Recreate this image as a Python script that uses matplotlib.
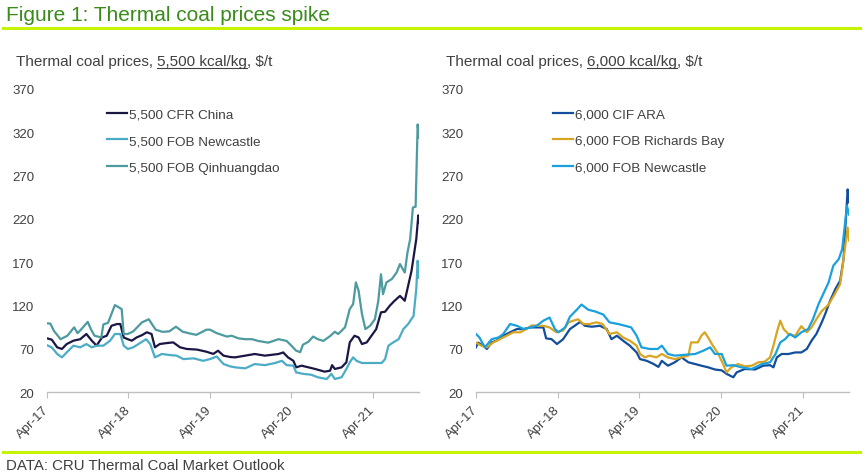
import matplotlib
matplotlib.use('Agg')
import matplotlib.pyplot as plt
from matplotlib.lines import Line2D

plt.rcParams['font.family'] = ['Liberation Sans', 'DejaVu Sans']

# months counted from Apr-17
tick_months = [0, 12, 24, 36, 48]
tick_labels = ['Apr-17', 'Apr-18', 'Apr-19', 'Apr-20', 'Apr-21']

# 5,500 kcal/kg
cfr_china_m = [0, 0.7, 1.5, 2.2, 2.9, 3.9, 4.9, 5.8, 6.6, 7.3, 8.1, 8.8, 9.5, 10.3, 10.8, 11.3, 11.9,
               12.5, 13.2, 14, 14.7, 15.4, 15.9, 16.6, 17.6, 18.6, 19.6, 20.6, 22.1, 23.5, 24.5, 25.2,
               26, 27, 27.7, 29.2, 30.6, 32.1, 34.1, 34.8, 35.5, 36.3, 36.7, 37.5, 38.5, 39.5, 40.9,
               41.7, 42, 42.4, 43.4, 44.1, 44.6, 45.3, 45.9, 46.4, 47.1, 47.8, 48.5, 49.2, 49.8, 50.5,
               51.2, 52, 52.7, 53.2, 53.7, 54.4, 54.7, 54.8]
cfr_china_v = [82, 80.5, 71.6, 69.7, 75.4, 79.3, 81, 87, 79.3, 73.5, 83, 85, 96.5, 98.5, 98.5, 83, 81,
               79.3, 83, 85.7, 89, 87, 71.6, 75.4, 76.5, 77.3, 71.6, 69.7, 69, 66.5, 64, 67.7,
               62, 60.4, 60, 62, 63.9, 62, 63.9, 65.7, 60, 56, 48.5, 50.4, 48.5, 46.6, 43.5,
               44.6, 51, 46.6, 48.5, 54.3, 77.3, 85, 83, 75.4, 77.3, 85, 92.7, 112, 112.7, 119.7,
               125.4, 131, 125.4, 142.7, 160, 196.7, 224, 216]

newc55_m = [0, 0.7, 1.5, 2.2, 2.9, 3.9, 4.9, 5.8, 6.6, 7.3, 8.3, 9.3, 10, 10.8, 11.3, 11.9, 12.7,
            13.7, 14.6, 15.2, 15.9, 16.9, 18.1, 19.1, 20.1, 21.6, 23, 24, 25, 26, 27, 27.7, 29.2,
            30.6, 32.1, 33.6, 34.6, 35.3, 36.3, 36.7, 37.7, 38.9, 39.9, 41.2, 41.9, 42.4, 43.4,
            44.1, 44.6, 45.1, 45.6, 46.4, 47.8, 49.3, 49.8, 50.3, 51, 51.8, 52.5, 53.2, 54, 54.4,
            54.6, 54.8]
newc55_v = [74, 71.6, 63.9, 60, 65.7, 73.5, 71.6, 75.4, 71.6, 73.5, 73.5, 79.3, 87, 87, 73.5, 69.7, 71.6,
            76.5, 81, 75.4, 60, 63.9, 62.7, 62, 58, 58.9, 56, 58, 61, 52.3, 49.6, 48.5, 47.3,
            52.3, 51, 53.5, 56, 51, 50.4, 42.7, 41, 40, 37, 35, 41, 35, 37,
            46.6, 54.3, 60, 56, 53.5, 53.5, 53.5, 58, 73.5, 77.3, 81, 92.7, 98.5, 108, 139,
            171.6, 152]

qhd_m = [0, 0.5, 1, 2, 3, 4, 4.5, 5, 6, 6.5, 7, 8, 8.3, 9, 10, 11, 11.3, 11.9, 12.7, 14, 15, 16, 17,
         18, 19, 20, 21, 22, 23.5, 24, 25, 26.5, 27.2, 28.2, 29.2, 30.2, 31.1, 32.6, 34.1, 35.3, 36,
         36.7, 37.3, 37.7, 38.5, 39.2, 39.9, 40.7, 41.7, 42.4, 42.9, 43.9, 44.6, 45.1, 45.5, 45.9,
         46.4, 46.9, 47.6, 48.3, 48.8, 49.2, 49.5, 50, 50.8, 51.5, 52, 52.7, 53.1, 53.5, 53.9, 54.3,
         54.6, 54.8]
qhd_v = [99.3, 99, 90.8, 81, 85, 94.7, 88, 92, 101, 92, 85, 83, 98, 100, 120.4, 115.8, 87, 87, 90, 100.5,
         104, 92, 89.5, 90, 95.4, 89.6, 87.7, 86, 92, 92, 88, 84, 85, 82, 81, 81, 79, 77, 81, 79, 73.5,
         67.7, 66, 74.6, 78, 84, 81, 79, 84.6, 89.6, 87, 94.7, 115.8, 121.6, 146.6, 137,
         110, 92.7, 96.5, 104, 125, 156, 133, 146.6, 150.5, 158, 167.8, 158, 181, 196.7, 233, 234,
         329, 314]

# 6,000 kcal/kg
ara_m = [0, 0.3, 1.1, 1.6, 2.3, 3, 4, 5, 6, 7, 8, 8.9, 9.9, 10.3, 11.1, 11.9, 12.8, 13.8, 14.5, 15.3,
         16, 17, 18.2, 19.2, 19.9, 20.7, 21.6, 22.6, 23.6, 24.1, 25.1, 26.1, 26.8, 27.3, 28.2, 29.2,
         30.2, 31.2, 32.2, 33.1, 34.1, 35.1, 36.1, 36.8, 37.8, 38.3, 39.5, 41, 42.2, 43.2, 43.7, 44.2,
         44.9, 45.9, 46.9, 47.8, 48.6, 49.3, 50, 50.8, 51.3, 52, 52.8, 53.5, 54, 54.6, 54.8]
ara_v = [71.6, 77, 73.5, 69.7, 77.3, 79.3, 85, 89, 92.7, 92.7, 94.6, 94.6, 94.6, 82, 81, 75.4, 81, 92.7,
         96.5, 101, 96.5, 95.4, 96.5, 92.7, 81, 85, 79.3, 73.5, 65.7, 58, 56, 52.3, 49, 56, 50.4, 54.3,
         60, 54.3, 52.3, 50.4, 48.5, 46, 45, 41, 37, 42.7, 46.6, 46, 50.4, 51, 48.5, 60,
         63.9, 63.9, 65.7, 65.7, 69.7, 79.3, 87, 100.5, 110, 125, 139, 148.6, 173.6, 254, 239]

rbay_m = [0, 0.8, 1.6, 2.5, 3.5, 4.5, 5.5, 6.5, 7.4, 8.2, 8.9, 9.9, 10.8, 11.8, 12.8, 13.6, 14.3, 15,
          15.8, 16.7, 17.7, 18.6, 19.6, 20.7, 21.6, 22.6, 23.6, 24.1, 24.8, 25.5, 26.5, 27.3, 28.2,
          29.2, 30.2, 31.2, 31.6, 32.6, 33.1, 33.6, 34.1, 34.8, 35.6, 36.3, 36.8, 37.5, 38.5, 39.5,
          40.5, 41.5, 42.4, 43.2, 43.7, 44.2, 44.7, 45.2, 45.9, 46.9, 47.8, 48.6, 49.3, 50, 50.8,
          51.8, 52.7, 53.5, 54, 54.6, 54.8]
rbay_v = [77, 73.5, 71.6, 77, 81, 85, 89, 89, 92.7, 97, 96.5, 96.5, 94.6, 89, 91, 100.5, 102.4, 104,
          98.5, 98.5, 100.5, 98.5, 87, 89, 83, 79.3, 73.5, 63.9, 60, 62, 60, 63.9, 60,
          58, 60, 62, 77.3, 77.3, 85, 89, 83, 73.5, 63.9, 52.3, 42.7, 48.5, 52.3, 49.6,
          50.4, 54.3, 55, 60, 73.5, 89, 102.4, 92.7, 87, 85, 96, 89, 94.6, 104, 113.5,
          121, 133, 144.6, 173.6, 210, 195]

newc60_m = [0, 0.5, 1.3, 2.3, 3.3, 4, 5, 6, 7, 8, 8.9, 9.9, 10.8, 11.6, 12.1, 13.1, 13.8, 14.8, 15.5,
            16.5, 17.5, 18.7, 19.6, 20.9, 21.9, 22.8, 23.6, 24.3, 25.5, 26.7, 27.3, 28.2, 29.2, 30.7,
            32.2, 33.4, 34.4, 35.1, 36.1, 36.8, 37.8, 39, 40.5, 42, 43.2, 44, 44.7, 45.4, 46.1, 46.9,
            47.8, 48.8, 49.5, 50.3, 51, 51.8, 52.5, 53.3, 53.8, 54.5, 54.8]
newc60_v = [87, 83, 71.6, 81, 83, 87, 98.5, 96.5, 92.7, 94.6, 96.5, 102.4, 106, 92.7, 89, 94.6, 107, 115,
            121, 115, 113, 109.5, 100.5, 98.5, 96.5, 94.6, 85, 71.6, 69.7, 69.7, 73.5, 63.9, 62, 63,
            63.9, 67.7, 71.6, 63.9, 63.9, 50.4, 51, 48.5, 46.6, 52.3, 54.3, 63.9, 77.3, 81, 87, 83,
            89, 92.7, 104, 121, 133, 146.6, 166, 173.6, 185, 235, 225]

GREY = '#404040'
W, H = 866, 477

fig = plt.figure(figsize=(W / 100, H / 100), dpi=100)


def fx(px):
    return px / W


def fy(py):
    return 1 - py / H


def subtitle(x, y, pre, mid, post):
    r = fig.canvas.get_renderer()
    kw = dict(fontsize=11, color=GREY, va='baseline')
    t1 = fig.text(fx(x), fy(y), pre, **kw)
    a = fig.text(0, 0, 'x x', **kw)
    b = fig.text(0, 0, 'xx', **kw)
    space = a.get_window_extent(r).width - b.get_window_extent(r).width
    a.remove()
    b.remove()
    x1 = t1.get_window_extent(r).x1 + space
    t2 = fig.text(x1 / W, fy(y), mid, **kw)
    bb = t2.get_window_extent(r)
    fig.text(bb.x1 / W, fy(y), post, **kw)
    uy = fy(y + 2.5)
    fig.add_artist(Line2D([bb.x0 / W, bb.x1 / W], [uy, uy], color=GREY, lw=0.8))


def style(ax):
    for s in ['top', 'right', 'left']:
        ax.spines[s].set_visible(False)
    ax.spines['bottom'].set_color('#bfbfbf')
    ax.spines['bottom'].set_linewidth(1)
    ax.set_ylim(20, 370)
    ax.set_yticks(range(20, 371, 50))
    ax.set_xlim(0, 54.8)
    ax.set_xticks(tick_months)
    ax.set_xticklabels(tick_labels, rotation=45, ha='right', va='center', rotation_mode='anchor')
    ax.tick_params(axis='x', direction='out', length=4, color='#bfbfbf', labelsize=9.5,
                   labelcolor=GREY, pad=7)
    ax.tick_params(axis='y', length=0, labelsize=9.5, labelcolor=GREY, pad=9)
    ax.patch.set_alpha(0)


def legend(ax, x0):
    ax.legend(loc='upper left', bbox_to_anchor=(x0, 0.938), frameon=False, fontsize=9.7,
              handlelength=1.5, handletextpad=0.12, labelspacing=1.07, borderpad=0,
              borderaxespad=0, labelcolor=GREY)


ax1 = fig.add_axes([fx(47), fy(393), (419 - 47) / W, 303 / H])
ax1.plot(cfr_china_m, cfr_china_v, color='#1b1745', lw=1.6, label='5,500 CFR China')
ax1.plot(newc55_m, newc55_v, color='#4bacc6', lw=1.6, label='5,500 FOB Newcastle')
ax1.plot(qhd_m, qhd_v, color='#4d9a9f', lw=1.6, label='5,500 FOB Qinhuangdao')
style(ax1)
legend(ax1, 0.161)

ax2 = fig.add_axes([fx(476), fy(393), (849 - 476) / W, 303 / H])
ax2.plot(ara_m, ara_v, color='#124e9b', lw=1.6, label='6,000 CIF ARA')
ax2.plot(rbay_m, rbay_v, color='#d9a521', lw=1.6, label='6,000 FOB Richards Bay')
ax2.plot(newc60_m, newc60_v, color='#1aa0dd', lw=1.6, label='6,000 FOB Newcastle')
style(ax2)
legend(ax2, 0.206)

fig.text(fx(6), fy(21), 'Figure 1: Thermal coal prices spike', fontsize=15, color='#3a8a1c',
         va='baseline')
fig.add_artist(Line2D([fx(3), fx(860)], [fy(28.5), fy(28.5)], color='#c6f400', lw=2.2))
fig.add_artist(Line2D([fx(3), fx(860)], [fy(453), fy(453)], color='#c6f400', lw=2.2))

subtitle(16, 66.5, 'Thermal coal prices,', '5,500 kcal/kg', ', $/t')
subtitle(446, 66.5, 'Thermal coal prices,', '6,000 kcal/kg', ', $/t')

fig.text(fx(6), fy(470.5), 'DATA: CRU Thermal Coal Market Outlook', fontsize=10.8, color=GREY,
         va='baseline')

fig.savefig('out.png', dpi=100)
